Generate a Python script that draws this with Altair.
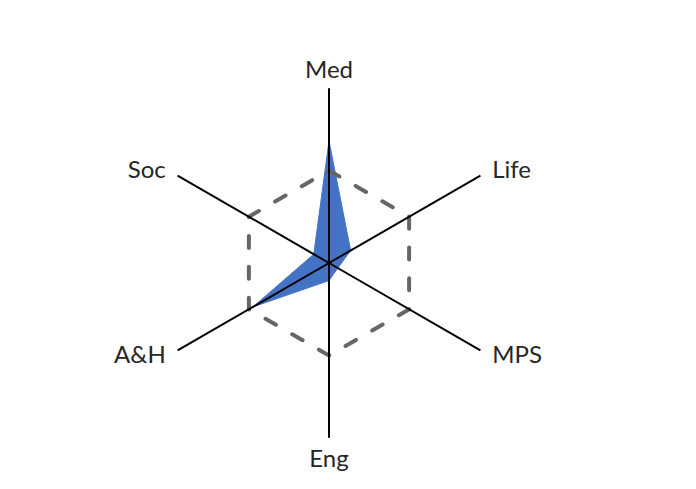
import math
import altair as alt
import pandas as pd

# ---- data ----
categories = ["Med", "Life", "MPS", "Eng", "A&H", "Soc"]
angles_deg = [90, 30, -30, -90, 210, 150]
values = [1.32, 0.27, 0.11, 0.19, 0.95, 0.19]
reference_level = [1.0, 1.0, 1.0, 1.0, 1.0, 1.0]
axis_max = 1.89
label_radius = 2.0

# ---- layout ----
PX = 92.5            # pixels per unit
W, H = 680, 473
CX, CY = 321, 255    # centre in plot coords
xdom = [-CX / PX, (W - CX) / PX]
ydom = [-(H - CY) / PX, CY / PX]
xs = alt.Scale(domain=xdom, nice=False, zero=False)
ys = alt.Scale(domain=ydom, nice=False, zero=False)


def polar(r, a):
    t = math.radians(a)
    return r * math.cos(t), r * math.sin(t)


def ring(vals):
    rows = []
    n = len(categories)
    for i in range(n + 1):
        k = i % n
        x, y = polar(vals[k], angles_deg[k])
        rows.append({"cat": categories[k], "x": x, "y": y, "o": i})
    return pd.DataFrame(rows)


blue_df = ring(values)
ref_df = ring(reference_level)

spoke_rows = []
for c, a in zip(categories, angles_deg):
    x2, y2 = polar(axis_max, a)
    spoke_rows.append({"cat": c, "x": 0.0, "y": 0.0, "x2": x2, "y2": y2})
spoke_df = pd.DataFrame(spoke_rows)

lab_rows = []
for c, a in zip(categories, angles_deg):
    x, y = polar(label_radius, a)
    if a == 90:
        grp = "top"
    elif a == -90:
        grp = "bottom"
    elif math.cos(math.radians(a)) > 0:
        grp = "right"
    else:
        grp = "left"
    lab_rows.append({"cat": c, "x": x, "y": y, "grp": grp})
lab_df = pd.DataFrame(lab_rows)

enc_xy = dict(
    x=alt.X("x:Q", scale=xs, axis=None),
    y=alt.Y("y:Q", scale=ys, axis=None),
)

blue = alt.Chart(blue_df).mark_line(
    fill="#4472C4", stroke="#4472C4", strokeWidth=1, interpolate="linear"
).encode(order="o:Q", **enc_xy)

ref = alt.Chart(ref_df).mark_line(
    stroke="#666666", strokeWidth=4, strokeDash=[12, 18.8], strokeCap="round"
).encode(order="o:Q", **enc_xy)

spokes = alt.Chart(spoke_df).mark_rule(color="#000000", strokeWidth=2).encode(
    x=alt.X("x:Q", scale=xs, axis=None),
    y=alt.Y("y:Q", scale=ys, axis=None),
    x2="x2:Q",
    y2="y2:Q",
)

font = dict(font="Lato", fontSize=24, color="#262626")


def labels(grp, align, baseline, dx=0):
    return alt.Chart(lab_df).transform_filter(
        alt.datum.grp == grp
    ).mark_text(align=align, baseline=baseline, dx=dx, **font).encode(
        text="cat:N", **enc_xy
    )


chart = alt.layer(
    blue,
    ref,
    spokes,
    labels("top", "center", "alphabetic"),
    labels("bottom", "center", "top"),
    labels("right", "left", "middle", 3),
    labels("left", "right", "middle", -3),
).properties(
    width=W, height=H, padding=0, autosize=alt.AutoSizeParams(type="none")
).configure_view(stroke=None)

chart.save("out.html", embed_options={"renderer": "svg", "actions": False})
